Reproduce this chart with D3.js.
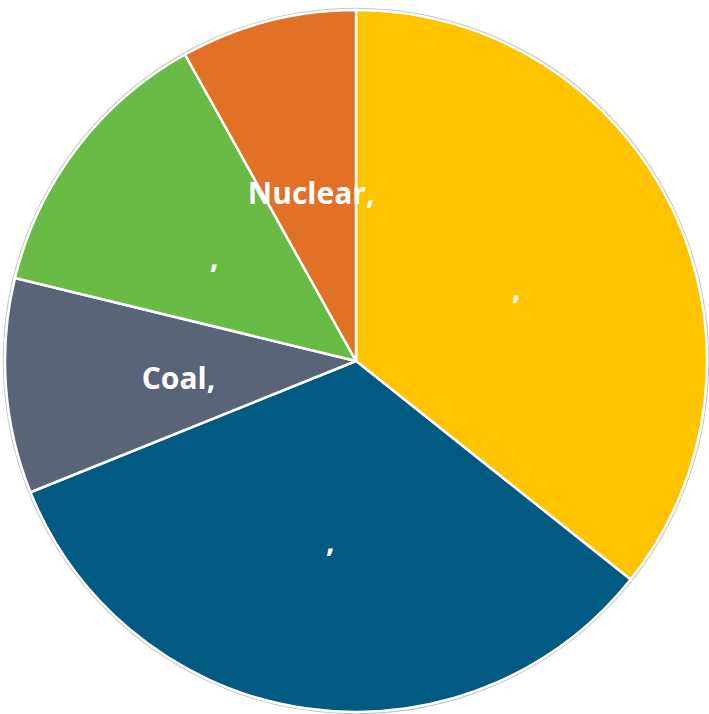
<!DOCTYPE html>
<html>
<head>
<meta charset="utf-8">
<script src="https://cdn.jsdelivr.net/npm/d3@7"></script>
<style>
  html, body { margin: 0; padding: 0; background: #fff; }
  svg { display: block; }
</style>
</head>
<body>
<svg></svg>
<script>
var width = 709;
var height = 714;
var radius = 351;

// slices clockwise from 12 o'clock (percent of total)
var categories = ['', '', 'Coal', '', 'Nuclear'];
var values = [35.7, 33.2, 9.9, 13.1, 8.1];
var colors = ['#FFC300', '#005A82', '#5A6479', '#6ABB45', '#E07126'];

var data = categories.map(function (c, i) {
    return {name: c, value: values[i], color: colors[i]};
});

var svg = d3.select('svg')
  .attr('width', width)
  .attr('height', height)
  .append('g')
  .attr('transform', 'translate(' + 356 + ',' + 361 + ')');

var pie = d3.pie()
  .sort(null)
  .value(function (d) { return d.value; });

var drawArc = d3.arc()
  .innerRadius(0)
  .outerRadius(radius);

var labelArc = d3.arc()
  .innerRadius(178)
  .outerRadius(178);

// thin grey rim around the pie
svg.append('circle')
  .attr('r', radius + 1.5)
  .attr('fill', 'none')
  .attr('stroke', '#c8c8c8')
  .attr('stroke-width', 1.5);

var arcs = pie(data);

svg.selectAll('path.slice')
  .data(arcs)
  .enter()
  .append('path')
  .attr('class', 'slice')
  .attr('fill', function (d) { return d.data.color; })
  .attr('stroke', '#ffffff')
  .attr('stroke-width', 2.5)
  .attr('stroke-linejoin', 'round')
  .attr('d', drawArc);

svg.selectAll('text.label')
  .data(arcs)
  .enter()
  .append('text')
  .attr('class', 'label')
  .attr('transform', function (d) { return 'translate(' + labelArc.centroid(d) + ')'; })
  .attr('text-anchor', 'middle')
  .attr('dy', '0.5em')
  .attr('fill', '#ffffff')
  .style('font-family', '"Open Sans", sans-serif')
  .style('font-weight', 'bold')
  .style('font-size', '30px')
  .text(function (d) { return d.data.name + ','; });
</script>
</body>
</html>
